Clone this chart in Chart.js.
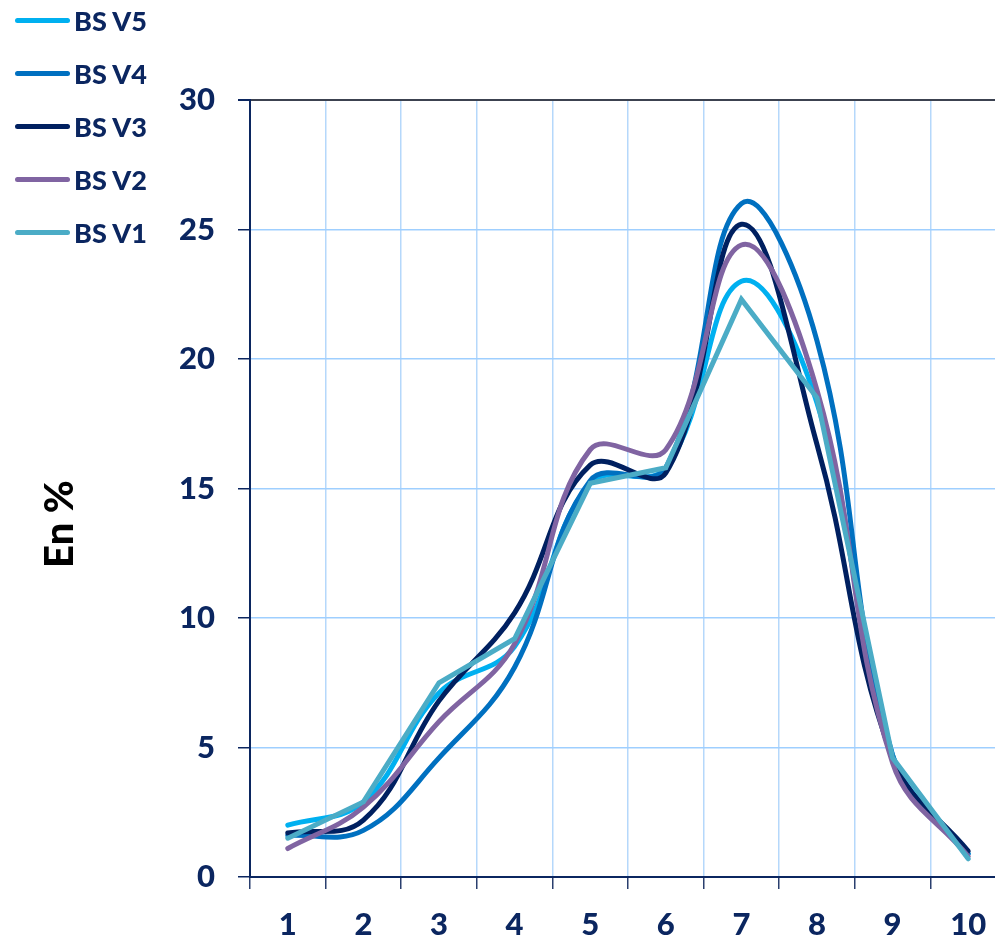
<!DOCTYPE html>
<html>
<head>
<meta charset="utf-8">
<script src="https://cdn.jsdelivr.net/npm/chart.js@4"></script>
<style>
  html, body { margin: 0; padding: 0; background: #fff; overflow: hidden; width: 995px; height: 942px; }
  #wrap { position: relative; width: 995px; height: 942px; overflow: hidden; }
  canvas { position: absolute; left: 0; top: 0; }
  #legend { position: absolute; left: 0; top: 0; }
  .item { position: absolute; left: 15px; height: 30px; display: flex; align-items: center; }
  .swatch { width: 55px; height: 5px; border-radius: 3px; margin-right: 4px; }
  .lbl { font-family: Lato, sans-serif; font-weight: 900; font-size: 27px; color: #0b2660; white-space: nowrap; }
</style>
</head>
<body>
<div id="wrap">
  <canvas id="c" width="1012" height="942"></canvas>
  <div id="legend"></div>
</div>
<script>
const categories = ['1','2','3','4','5','6','7','8','9','10'];
const yTicks = [0, 5, 10, 15, 20, 25, 30];

const bsV5 = [2.0, 2.9, 7.1, 8.9, 15.2, 15.8, 23.0, 18.3, 4.7, 0.9];
const bsV4 = [1.6, 1.8, 4.6, 8.1, 15.3, 15.8, 26.0, 20.7, 4.7, 0.9];
const bsV3 = [1.7, 2.2, 6.8, 10.2, 15.9, 15.6, 25.2, 16.7, 4.6, 1.0];
const bsV2 = [1.1, 2.7, 6.0, 9.0, 16.5, 16.5, 24.4, 18.8, 4.4, 0.8];
const bsV1 = [1.5, 2.9, 7.5, 9.2, 15.2, 15.8, 22.3, 18.5, 4.6, 0.7];

const seriesNames = ['BS V5', 'BS V4', 'BS V3', 'BS V2', 'BS V1'];
const seriesData = [bsV5, bsV4, bsV3, bsV2, bsV1];
const seriesColors = ['#00b0f0', '#0070c0', '#002060', '#8064a2', '#4bacc6'];
const seriesSmooth = [true, true, true, true, false];

const NAVY = '#0b2660';
const FONT = 'Lato, sans-serif';

// datasets: V1 first so that it is drawn on top
const datasets = [];
for (let i = seriesNames.length - 1; i >= 0; i--) {
  datasets.push({
    label: seriesNames[i],
    data: seriesData[i],
    borderColor: seriesColors[i],
    backgroundColor: seriesColors[i],
    borderWidth: 5,
    pointRadius: 0,
    pointHoverRadius: 0,
    tension: seriesSmooth[i] ? 0.4 : 0,
    borderCapStyle: 'round',
    borderJoinStyle: 'miter',
    fill: false
  });
}

// HTML legend
const legendEl = document.getElementById('legend');
seriesNames.forEach((name, i) => {
  const it = document.createElement('div');
  it.className = 'item';
  it.style.top = (20 + i * 53 - 15) + 'px';
  const sw = document.createElement('div');
  sw.className = 'swatch';
  sw.style.background = seriesColors[i];
  const lb = document.createElement('div');
  lb.className = 'lbl';
  lb.textContent = name;
  it.appendChild(sw); it.appendChild(lb);
  legendEl.appendChild(it);
});

const yTitlePlugin = {
  id: 'yTitle',
  afterDraw(chart) {
    const ctx = chart.ctx;
    ctx.save();
    ctx.translate(60, 524);
    ctx.rotate(-Math.PI / 2);
    ctx.font = '900 40px ' + FONT;
    ctx.fillStyle = '#000';
    ctx.textAlign = 'center';
    ctx.textBaseline = 'middle';
    ctx.fillText('En %', 0, 0);
    ctx.restore();
  }
};

new Chart(document.getElementById('c'), {
  type: 'line',
  data: { labels: categories, datasets },
  options: {
    responsive: false,
    animation: false,
    events: [],
    layout: { padding: { left: 0, right: 6, top: 100, bottom: 0 } },
    plugins: { legend: { display: false }, tooltip: { enabled: false } },
    scales: {
      x: {
        offset: true,
        grid: {
          offset: true,
          color: '#b5d8fb',
          lineWidth: 1.5,
          tickColor: '#2a3f6e',
          tickLength: 12,
          drawOnChartArea: true
        },
        border: { color: '#0b2660', width: 2 },
        ticks: {
          color: NAVY,
          font: { family: FONT, size: 31, weight: '900' },
          padding: 17,
          maxRotation: 0,
          autoSkip: false
        },
        afterFit(scale) { scale.height = 942 - 877; }
      },
      y: {
        min: 0,
        max: 30,
        afterBuildTicks(scale) { scale.ticks = yTicks.map(v => ({ value: v })); },
        grid: {
          color: ctx => ctx.tick && ctx.tick.value === 30 ? '#3c4250' : (ctx.tick && ctx.tick.value === 0 ? '#0b2660' : '#9fcfff'),
          lineWidth: ctx => ctx.tick && ctx.tick.value === 30 ? 2 : 1.5,
          tickColor: NAVY,
          tickLength: 12
        },
        border: { color: '#0b2660', width: 2 },
        ticks: {
          color: NAVY,
          font: { family: FONT, size: 31, weight: '900' },
          padding: 23
        },
        afterFit(scale) { scale.width = 250; }
      }
    }
  },
  plugins: [yTitlePlugin]
});
</script>
</body>
</html>
